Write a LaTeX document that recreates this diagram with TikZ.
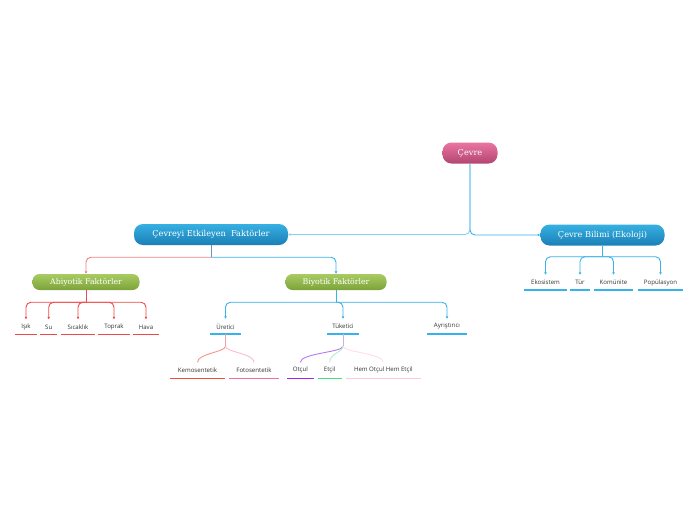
\documentclass[tikz,border=0pt]{standalone}
\usepackage{fontspec}
\setmainfont{DejaVu Serif}
\newfontfamily\leaffont{Open Sans}
\usetikzlibrary{arrows.meta}
\definecolor{bluelink}{HTML}{38B2EC}
\definecolor{lightlink}{HTML}{88D0F2}
\definecolor{redlink}{HTML}{F04848}
\definecolor{salmon}{HTML}{F08080}
\definecolor{steel}{HTML}{6A96B8}
\definecolor{leaftext}{HTML}{333333}
\definecolor{greenA}{HTML}{A8CC62}
\definecolor{greenB}{HTML}{7CA23A}
\definecolor{pinkA}{HTML}{EA74A2}
\definecolor{pinkB}{HTML}{B24670}
\definecolor{blueA}{HTML}{36B0E2}
\definecolor{blueB}{HTML}{1B7FB6}
\definecolor{kemoline}{rgb}{0.94,0.31,0.25}
\definecolor{fotoline}{rgb}{0.94,0.43,0.63}
\definecolor{otculline}{rgb}{0.63,0.13,0.94}
\definecolor{etcilline}{rgb}{0.25,0.88,0.50}
\definecolor{hemline}{rgb}{1.0,0.78,0.86}
\definecolor{ureL}{HTML}{F4A0A8}
\definecolor{kemoL}{HTML}{F4968C}
\definecolor{fotoL}{HTML}{F9BECC}
\definecolor{tukL}{HTML}{C4B4E4}
\definecolor{otculL}{HTML}{B478F0}
\definecolor{etcilL}{HTML}{B0F0C8}
\definecolor{hemL}{HTML}{FFDEEA}
\tikzset{
  x=1pt, y=-1pt,
  bignode/.style={rounded corners=9pt, minimum height=21pt, inner sep=0pt,
    text=white, font=\fontsize{8.2}{9}\selectfont},
  greennode/.style={rounded corners=7pt, minimum height=16pt, inner sep=0pt,
    text=white, font=\fontsize{7.8}{8}\selectfont,
    top color=greenA, bottom color=greenB},
  leaf/.style={inner sep=0pt, minimum height=15pt, text=leaftext,
    font=\leaffont\fontsize{6.1}{7}\selectfont},
  uline/.style={line width=1.5pt, draw=#1},
  conn/.style={line width=0.9pt, rounded corners=5pt,
    -{Latex[length=2.4pt,width=2.8pt]}},
  curv/.style={line width=0.9pt},
}
\begin{document}
\begin{tikzpicture}
\useasboundingbox (0,0) rectangle (696,520);
\fill[white] (0,0) rectangle (696,520);
% main nodes
\node[bignode, minimum width=55pt, top color=pinkA, bottom color=pinkB]
  (root) at (470,153) {Çevre};
\node[bignode, minimum width=154pt, top color=blueA, bottom color=blueB]
  (cef) at (211,234.5) {Çevreyi Etkileyen\ \ Faktörler};
\node[bignode, minimum width=124pt, top color=blueA, bottom color=blueB]
  (cb) at (602.5,235) {Çevre Bilimi (Ekoloji)};
\node[greennode, minimum width=107pt] (abi) at (86,282) {Abiyotik Faktörler};
\node[greennode, minimum width=101pt] (biy) at (336,282) {Biyotik Faktörler};

% leaves: Abiyotik
\node[leaf, minimum width=22pt] (isik) at (26,327) {Işık};
\node[leaf, minimum width=17pt] (su) at (48.7,327) {Su};
\node[leaf, minimum width=33pt] (sic) at (78,327) {Sıcaklık};
\node[leaf, minimum width=32pt] (topr) at (114,327) {Toprak};
\node[leaf, minimum width=26pt] (hava) at (146,327) {Hava};
% leaves: Biyotik
\node[leaf, minimum width=31pt] (ure) at (225.5,326.5) {Üretici};
\node[leaf, minimum width=31pt] (tuk) at (343,326.5) {Tüketici};
\node[leaf, minimum width=40pt] (ayr) at (447,326.5) {Ayrıştırıcı};
% leaves: Üretici / Tüketici
\node[leaf, minimum width=55pt] (kemo) at (197.5,370) {Kemosentetik};
\node[leaf, minimum width=49pt] (foto) at (254,370) {Fotosentetik};
\node[leaf, minimum width=27pt] (otcul) at (300.3,370) {Otçul};
\node[leaf, minimum width=24pt] (etcil) at (329.7,370) {Etçil};
\node[leaf, minimum width=75pt] (hem) at (383.3,370) {Hem Otçul Hem Etçil};
% leaves: Çevre Bilimi
\node[leaf, minimum width=43pt] (eko) at (545.5,282.5) {Ekosistem};
\node[leaf, minimum width=20pt] (tur) at (580,282.5) {Tür};
\node[leaf, minimum width=39pt] (kom) at (613.5,282.5) {Komünite};
\node[leaf, minimum width=45pt] (pop) at (660.5,282.5) {Popülasyon};

% underlines
\foreach \n in {isik,su,sic,topr,hava}
  \draw[uline=redlink] (\n.south west) -- (\n.south east);
\foreach \n in {ure,tuk,ayr,eko,tur,kom,pop}
  \draw[uline=bluelink] (\n.south west) -- (\n.south east);
\fill[kemoline] (kemo.south west) rectangle ([yshift=-1.7pt]kemo.south east);
\fill[fotoline] (foto.south west) rectangle ([yshift=-1.7pt]foto.south east);
\fill[otculline] (otcul.south west) rectangle ([yshift=-1.7pt]otcul.south east);
\fill[etcilline] (etcil.south west) rectangle ([yshift=-1.7pt]etcil.south east);
\fill[hemline] (hem.south west) rectangle ([yshift=-1.7pt]hem.south east);

% root connectors
\draw[conn, lightlink] (root.south) |- (cef.east);
\draw[conn, bluelink] (root.south) |- (cb.west);

% Çevreyi Etkileyen Faktörler
\draw[line width=0.9pt, steel] (cef.south) -- ++(0,12) coordinate (cefj);
\draw[conn, salmon] (cefj) -| (abi.north);
\draw[conn, bluelink] (cefj) -| (biy.north);

% Abiyotik children
\draw[line width=0.9pt, redlink] (abi.south) -- ++(0,12) coordinate (abij);
\foreach \n in {isik,su,sic,topr,hava}
  \draw[conn, redlink] (abij) -| (\n.north);

% Biyotik children
\draw[line width=0.9pt, bluelink] (biy.south) -- ++(0,12) coordinate (biyj);
\foreach \n in {ure,tuk,ayr}
  \draw[conn, bluelink] (biyj) -| (\n.north);

% Çevre Bilimi children
\draw[line width=0.9pt, bluelink] (cb.south) -- ++(0,11) coordinate (cbj);
\foreach \n in {eko,tur,kom,pop}
  \draw[conn, bluelink] (cbj) -| (\n.north);

% Üretici children
\draw[curv, ureL] (ure.south) -- ++(0,12) coordinate (urej);
\draw[curv, kemoL] (urej) .. controls +(0,6) and +(0,-9) .. (kemo.north);
\draw[curv, fotoL] (urej) .. controls +(0,6) and +(0,-9) .. (foto.north);

% Tüketici children
\draw[curv, tukL] (tuk.south) -- ++(0,12) coordinate (tukj);
\draw[curv, otculL] (tukj) .. controls +(0,6) and +(0,-9) .. (otcul.north);
\draw[curv, etcilL] (tukj) .. controls +(0,6) and +(0,-9) .. (etcil.north);
\draw[curv, hemL] (tukj) .. controls +(0,6) and +(0,-9) .. (hem.north);
\end{tikzpicture}
\end{document}
